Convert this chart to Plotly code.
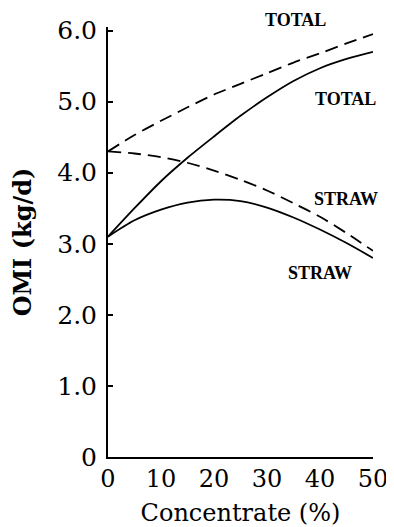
import plotly.graph_objects as go

conc = [0, 5, 10, 15, 20, 25, 30, 35, 40, 45, 50]
total_solid = [3.1, 3.5, 3.88, 4.21, 4.51, 4.8, 5.06, 5.29, 5.47, 5.6, 5.7]
straw_solid = [3.1, 3.33, 3.48, 3.58, 3.62, 3.6, 3.51, 3.37, 3.2, 3.01, 2.8]
total_dash = [4.3, 4.53, 4.73, 4.92, 5.1, 5.25, 5.4, 5.55, 5.68, 5.82, 5.95]
straw_dash = [4.3, 4.27, 4.22, 4.14, 4.03, 3.9, 3.75, 3.57, 3.38, 3.15, 2.9]

y_tickvals = [0, 1, 2, 3, 4, 5, 6]
y_ticktext = ["0", "1.0", "2.0", "3.0", "4.0", "5.0", "6.0"]
x_tickvals = [0, 10, 20, 30, 40, 50]

labels = ["TOTAL", "TOTAL", "STRAW", "STRAW"]
label_x = [35.3, 44.9, 44.9, 40.0]
label_y = [6.15, 5.03, 3.63, 2.59]

Y_MAX = 6.05

fig = go.Figure()
solid = dict(color="black", width=1.8)
dashed = dict(color="black", width=1.8, dash="13px,7px")
for ys, ln in [(total_solid, solid), (straw_solid, solid), (total_dash, dashed), (straw_dash, dashed)]:
    fig.add_trace(go.Scatter(x=conc, y=ys, mode="lines", line=dict(shape="spline", smoothing=0.8, **ln),
                             showlegend=False, hoverinfo="skip", cliponaxis=False))

for t, xx, yy in zip(labels, label_x, label_y):
    fig.add_annotation(x=xx, y=yy / Y_MAX, xref="x", yref="paper", text=t, showarrow=False,
                       xanchor="center", yanchor="middle",
                       font=dict(family="Liberation Serif", size=18, color="black", weight="bold"))

# page body has an 8px margin, so the figure is shrunk by 8px to fit the window
fig.update_layout(
    width=386, height=519,
    margin=dict(l=100, r=21, t=19, b=70),
    plot_bgcolor="white", paper_bgcolor="white",
    font=dict(family="DejaVu Serif", color="black"),
)
fig.update_xaxes(range=[0, 50], tickvals=x_tickvals, showgrid=False, zeroline=False, automargin=False,
                 showline=True, linecolor="black", linewidth=2, ticks="",
                 tickfont=dict(size=24), ticklabelstandoff=-1,
                 title=dict(text="Concentrate (%)", font=dict(size=24), standoff=15))
fig.update_yaxes(range=[0, Y_MAX], tickvals=y_tickvals, ticktext=y_ticktext, showgrid=False, automargin=False,
                 zeroline=False, showline=True, linecolor="black", linewidth=2,
                 ticks="inside", ticklen=5, tickcolor="black", tickwidth=1.5,
                 tickfont=dict(size=25), ticklabelstandoff=4,
                 title=dict(text="OMI (kg/d)", font=dict(size=24, weight="bold"), standoff=24))

fig.write_html("out.html")
